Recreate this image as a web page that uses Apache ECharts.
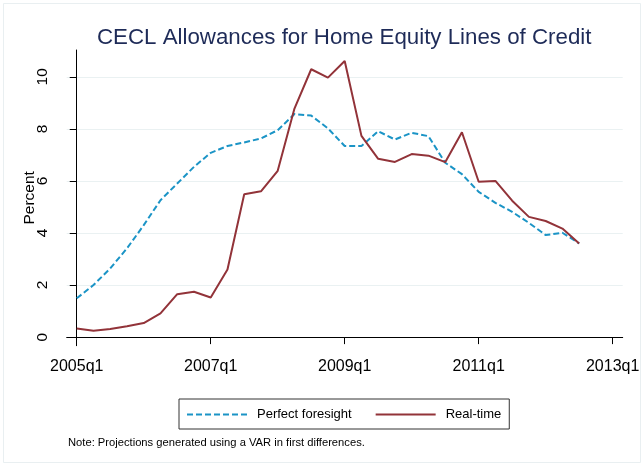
<!DOCTYPE html>
<html>
<head>
<meta charset="utf-8">
<script src="https://cdn.jsdelivr.net/npm/echarts@6/dist/echarts.min.js"></script>
<style>
  html, body { margin: 0; padding: 0; background: #fff; }
  #chart { width: 644px; height: 466px; }
</style>
</head>
<body>
<div id="chart"></div>
<script>
// quarters 2005q1 .. 2012q3
const quarters = [
  '2005q1', '2005q2', '2005q3', '2005q4', '2006q1', '2006q2', '2006q3', '2006q4',
  '2007q1', '2007q2', '2007q3', '2007q4', '2008q1', '2008q2', '2008q3', '2008q4',
  '2009q1', '2009q2', '2009q3', '2009q4', '2010q1', '2010q2', '2010q3', '2010q4',
  '2011q1', '2011q2', '2011q3', '2011q4', '2012q1', '2012q2', '2012q3'
]

const perfectForesight = [
  1.49, 2.00, 2.64, 3.41, 4.30, 5.26, 5.90, 6.54,
  7.08, 7.34, 7.48, 7.63, 7.95, 8.57, 8.51, 8.02,
  7.34, 7.34, 7.91, 7.59, 7.85, 7.72, 6.70, 6.26,
  5.58, 5.16, 4.81, 4.39, 3.92, 4.01, 3.60
]

const realTime = [
  0.33, 0.24, 0.31, 0.42, 0.54, 0.91, 1.65, 1.74,
  1.52, 2.60, 5.49, 5.60, 6.39, 8.78, 10.29, 9.97,
  10.61, 7.73, 6.85, 6.73, 7.03, 6.97, 6.72, 7.87,
  5.97, 6.00, 5.24, 4.62, 4.46, 4.17, 3.60
]

// tick positions are quarter offsets from 2005q1
const xTickValues = [0, 8, 16, 24, 32]
const xTickLabels = ['2005q1', '2007q1', '2009q1', '2011q1', '2013q1']
const yTickValues = [0, 2, 4, 6, 8, 10]

const toPairs = arr => arr.map((v, i) => [i, v])

const chart = echarts.init(document.getElementById('chart'), null, { renderer: 'canvas' })

const FONT = 'Liberation Sans, Arial, sans-serif'

chart.setOption({
  backgroundColor: '#fff',
  animation: false,
  title: {
    text: 'CECL Allowances for Home Equity Lines of Credit',
    left: 92,
    top: 22,
    textStyle: { color: '#1e2b58', fontSize: 22.3, fontWeight: 'normal', fontFamily: FONT }
  },
  graphic: [
    {
      type: 'rect',
      shape: { x: 3.5, y: 3.5, width: 637, height: 459 },
      style: { fill: 'none', stroke: '#e9eff1', lineWidth: 1 },
      silent: true
    },
    {
      type: 'text',
      left: 68,
      top: 437,
      style: {
        text: 'Note: Projections generated using a VAR in first differences.',
        fill: '#000',
        font: '11.2px ' + FONT
      }
    }
  ],
  legend: {
    left: 179,
    top: 399,
    itemWidth: 60,
    itemHeight: 10,
    itemGap: 23,
    padding: [9, 8, 8, 7],
    borderColor: '#333',
    borderWidth: 1,
    borderRadius: 0,
    itemStyle: { opacity: 0 },
    textStyle: { fontSize: 13, color: '#000', fontFamily: FONT, padding: [0, 0, 0, 5] },
    data: ['Perfect foresight', 'Real-time']
  },
  grid: { left: 66.7, right: 21.3, top: 50, bottom: 120.3, containLabel: false },
  xAxis: {
    type: 'value',
    min: -0.6,
    max: 32.6,
    axisLine: { show: true, lineStyle: { color: '#000', width: 1 } },
    axisTick: { show: true, length: 7, customValues: xTickValues, lineStyle: { color: '#000' } },
    axisLabel: {
      customValues: xTickValues,
      margin: 13,
      fontSize: 16,
      color: '#000',
      fontFamily: FONT,
      formatter: v => xTickLabels[xTickValues.indexOf(v)]
    },
    splitLine: { show: false }
  },
  yAxis: {
    type: 'value',
    min: -0.33,
    max: 11.03,
    name: 'Percent',
    nameLocation: 'middle',
    nameRotate: 90,
    nameGap: 29,
    nameMoveOverlap: false,
    nameTextStyle: { fontSize: 15.5, color: '#000', fontFamily: FONT },
    axisLine: { show: true, lineStyle: { color: '#000', width: 1 } },
    axisTick: { show: true, length: 7, customValues: yTickValues, lineStyle: { color: '#000' } },
    axisLabel: {
      customValues: yTickValues,
      rotate: 90,
      margin: 16,
      fontSize: 15.5,
      color: '#000',
      fontFamily: FONT
    },
    splitLine: { show: true, lineStyle: { color: '#eaf1f2', width: 1.2 } }
  },
  series: [
    {
      name: 'Perfect foresight',
      type: 'line',
      data: toPairs(perfectForesight),
      showSymbol: false,
      symbol: 'none',
      lineStyle: { color: '#1b94c6', width: 2, type: [6, 3] },
      itemStyle: { color: '#1b94c6' }
    },
    {
      name: 'Real-time',
      type: 'line',
      data: toPairs(realTime),
      showSymbol: false,
      symbol: 'none',
      lineStyle: { color: '#923339', width: 2 },
      itemStyle: { color: '#923339' }
    }
  ]
})
</script>
</body>
</html>
